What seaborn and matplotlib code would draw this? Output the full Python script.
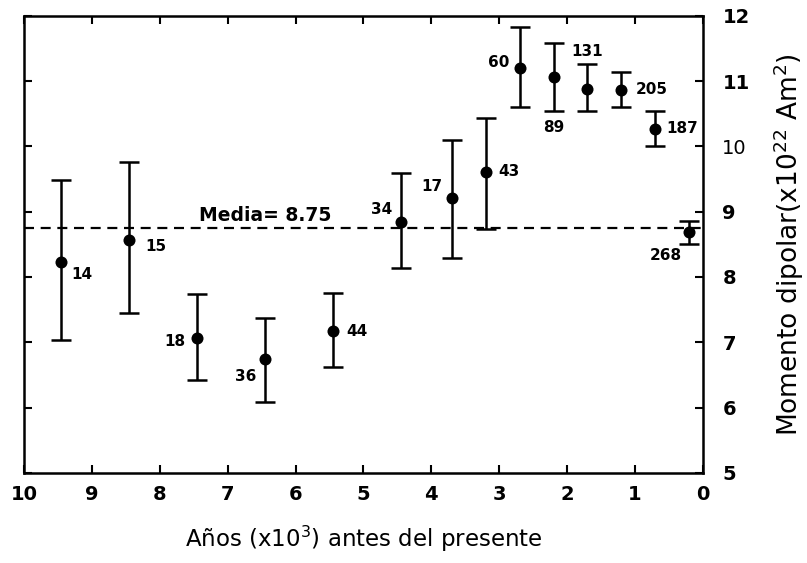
import numpy as np
import pandas as pd
import matplotlib
matplotlib.use("Agg")
import matplotlib.pyplot as plt
import seaborn as sns

# Datos
edad = [9.45, 8.45, 7.45, 6.45, 5.45, 4.45, 3.7, 3.2, 2.7, 2.2, 1.7, 1.2, 0.7, 0.2]
momento = [8.23, 8.57, 7.07, 6.75, 7.17, 8.84, 9.21, 9.61, 11.20, 11.07, 10.88, 10.87, 10.27, 8.69]
limite_inf = [7.04, 7.45, 6.42, 6.09, 6.62, 8.14, 8.29, 8.74, 10.61, 10.54, 10.54, 10.61, 10.01, 8.51]
limite_sup = [9.49, 9.76, 7.74, 7.37, 7.76, 9.59, 10.10, 10.44, 11.83, 11.58, 11.26, 11.14, 10.54, 8.86]
n_datos = [14, 15, 18, 36, 44, 34, 17, 43, 60, 89, 131, 205, 187, 268]
media = 8.75

df = pd.DataFrame({'edad': edad, 'momento': momento,
                   'inf': limite_inf, 'sup': limite_sup, 'n': n_datos})

# desplazamiento de cada etiqueta (puntos)
offsets = {14: (15, -9), 15: (19, -5), 18: (-16, -3), 36: (-14, -13),
           44: (17, 0), 34: (-14, 9), 17: (-14, 8), 43: (17, 0),
           60: (-15, 4), 89: (0, -37), 131: (0, 27), 205: (22, 0),
           187: (19, 0), 268: (-17, -17)}

sns.set_style("ticks")
plt.rcParams['font.family'] = ['DejaVu Sans']
plt.rcParams.update({'text.color': 'black', 'axes.labelcolor': 'black',
                     'xtick.color': 'black', 'ytick.color': 'black',
                     'axes.edgecolor': 'black'})

fig = plt.figure(figsize=(8.07, 5.63), dpi=100)
ax = fig.add_axes([0.0297, 0.160, 0.8413, 0.812])

ax.errorbar(df['edad'], df['momento'],
            yerr=[df['momento'] - df['inf'], df['sup'] - df['momento']],
            fmt='none', ecolor='black', elinewidth=1.8, capsize=7.5, capthick=1.8)
sns.scatterplot(data=df, x='edad', y='momento', ax=ax, color='black',
                s=75, edgecolor='black', linewidth=0, zorder=3)

ax.axhline(media, color='black', linestyle=(0, (4.5, 3)), linewidth=1.6, zorder=1)
ax.text(7.42, 8.8, f'Media= {media}', fontsize=13.5, fontweight='bold',
        ha='left', va='bottom')

for _, r in df.iterrows():
    dx, dy = offsets[int(r['n'])]
    ax.annotate(str(int(r['n'])), (r['edad'], r['momento']),
                xytext=(dx, dy), textcoords='offset points',
                ha='center', va='center', fontsize=11, fontweight='bold')

ax.set_xlim(10, 0)
ax.set_ylim(5, 12)
ax.set_xticks(range(10, -1, -1))
ax.set_yticks(range(5, 13))

ax.yaxis.tick_right()
ax.yaxis.set_label_position('right')
ax.tick_params(direction='in', length=6, width=1.5, top=True, bottom=True,
               left=True, right=True, labelleft=False, labelright=True,
               labelsize=14)
ax.tick_params(axis='x', pad=9)
ax.tick_params(axis='y', pad=14)
for lbl in ax.get_xticklabels() + ax.get_yticklabels():
    lbl.set_fontweight('bold')
# en el original el "10" del eje derecho no esta en negrita
ax.get_yticklabels()[5].set_fontweight('normal')

for sp in ax.spines.values():
    sp.set_visible(True)
    sp.set_linewidth(1.8)

ax.set_xlabel('Años (x10$^3$) antes del presente', fontsize=16.5, labelpad=14)
ax.set_ylabel('Momento dipolar(x10$^{22}$ Am$^2$)', fontsize=19, labelpad=16)

fig.savefig('out.png', dpi=100)
